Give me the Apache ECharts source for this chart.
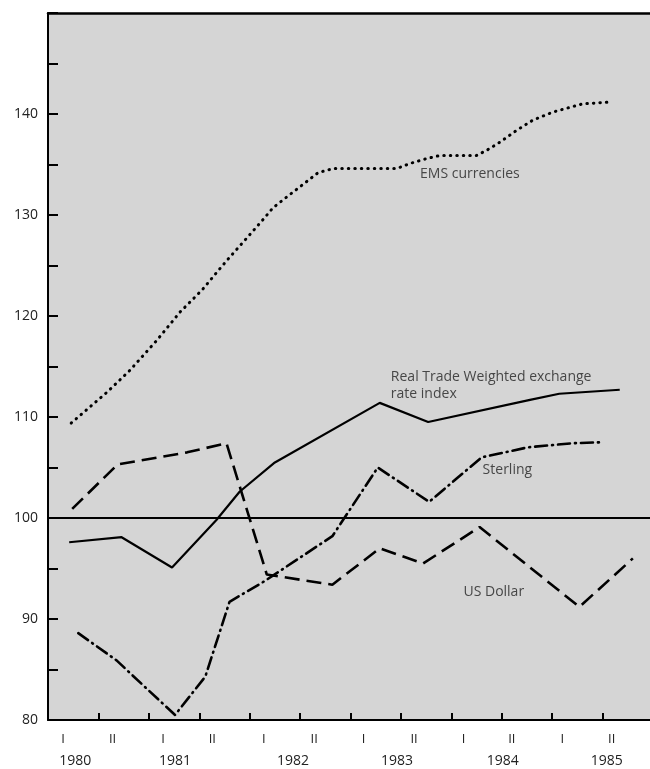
<!DOCTYPE html>
<html><head><meta charset="utf-8">
<script src="https://cdn.jsdelivr.net/npm/echarts@6/dist/echarts.min.js"></script>
<style>html,body{margin:0;padding:0;background:#fff}#c{width:650px;height:769px}</style>
</head><body><div id="c"></div>
<script>
// ---- data (time in decimal years, index values) ----
const emsX = [1980.23,1980.59,1980.81,1981.08,1981.31,1981.53,1981.68,1981.80,1981.97,1982.12,1982.23,1982.37,1982.50,1982.68,1982.83,1983.46,1983.59,1983.76,1983.89,1984.25,1984.35,1984.48,1984.65,1984.81,1985.01,1985.30,1985.60];
const emsY = [109.4,112.5,114.6,117.6,120.4,122.6,124.4,125.8,127.7,129.4,130.7,131.8,132.8,134.2,134.6,134.6,135.1,135.6,135.9,135.9,136.4,137.2,138.4,139.4,140.2,141.0,141.2];
const rtwX = [1980.21,1980.73,1981.23,1981.67,1981.90,1982.25,1983.29,1983.77,1984.78,1985.07,1985.67];
const rtwY = [97.6,98.1,95.1,99.8,102.6,105.5,111.4,109.5,111.7,112.3,112.7];
const usdX = [1980.24,1980.69,1981.38,1981.77,1982.17,1982.82,1983.29,1983.72,1984.28,1985.27,1985.80];
const usdY = [100.9,105.3,106.5,107.4,94.4,93.4,97.0,95.5,99.1,91.2,96.0];
const gbpX = [1980.30,1980.68,1980.99,1981.26,1981.56,1981.80,1982.14,1982.82,1983.27,1983.78,1984.30,1984.76,1985.20,1985.50];
const gbpY = [88.6,85.9,83.0,80.5,84.3,91.7,93.7,98.2,105.0,101.6,106.0,107.0,107.4,107.5];
const baseline = 100;

// ---- tick labels ----
const halfTicks = [1980.5,1981,1981.5,1982,1982.5,1983,1983.5,1984,1984.5,1985,1985.5];
const halfLabels = ['I','II','I','II','I','II','I','II','I','II','I','II'];
const halfLabelPos = [1980.15,1980.64,1981.14,1981.63,1982.14,1982.64,1983.13,1983.63,1984.12,1984.60,1985.10,1985.59];
const yearLabels = ['1980','1981','1982','1983','1984','1985'];
const yearLabelPos = [1980.27,1981.26,1982.43,1983.46,1984.51,1985.54];

// ---- annotations ----
const annoText = ['EMS currencies','Real Trade Weighted exchange\nrate index','Sterling','US Dollar'];
const annoPos = [[1983.69,134.1],[1983.40,113.1],[1984.31,104.75],[1984.12,92.7]];

const zip = (xs, ys) => xs.map((x, i) => [x, ys[i]]);
const font = '"Open Sans", sans-serif';
const txt = '#222';
const pick = (pos, labels) => v => {
  let best = -1, d = 1e9;
  pos.forEach((p, i) => { const dd = Math.abs(p - v); if (dd < d) { d = dd; best = i; } });
  return d < 0.02 ? labels[best] : '';
};

const chart = echarts.init(document.getElementById('c'));
chart.setOption({
  animation: false,
  backgroundColor: '#ffffff',
  grid: { left: 48, right: 0, top: 13, bottom: 49, show: true, backgroundColor: '#d5d5d5', borderWidth: 0 },
  xAxis: [
    { type: 'value', min: 1980, max: 1985.97, position: 'bottom',
      splitLine: { show: false },
      axisLine: { show: true, onZero: false, lineStyle: { color: '#000', width: 2 } },
      axisTick: { show: true, inside: true, length: 7, customValues: halfTicks, lineStyle: { color: '#000', width: 2 } },
      axisLabel: { show: true, customValues: halfLabelPos, formatter: pick(halfLabelPos, halfLabels),
        margin: 13, color: txt, fontFamily: font, fontSize: 13 } },
    { type: 'value', min: 1980, max: 1985.97, position: 'bottom',
      splitLine: { show: false }, axisLine: { show: false }, axisTick: { show: false },
      axisLabel: { show: true, customValues: yearLabelPos, formatter: pick(yearLabelPos, yearLabels),
        margin: 34, color: txt, fontFamily: font, fontSize: 14 } },
    { type: 'value', min: 1980, max: 1985.97, position: 'top',
      splitLine: { show: false }, axisTick: { show: false }, axisLabel: { show: false },
      axisLine: { show: true, onZero: false, lineStyle: { color: '#000', width: 2.5 } } }
  ],
  yAxis: { type: 'value', min: 80, max: 150, interval: 5,
    splitLine: { show: false },
    axisLine: { show: true, onZero: false, lineStyle: { color: '#000', width: 2 } },
    axisTick: { show: true, inside: true, length: 10, lineStyle: { color: '#000', width: 2 } },
    axisLabel: { margin: 10, color: txt, fontFamily: font, fontSize: 14,
      formatter: v => (v % 10 === 0 && v < 150) ? String(v) : '' } },
  series: [
    { name: 'EMS currencies', type: 'line', symbol: 'none', data: zip(emsX, emsY),
      lineStyle: { color: '#000', width: 3, type: [0.5, 6], cap: 'round' } },
    { name: 'Real Trade Weighted exchange rate index', type: 'line', symbol: 'none', data: zip(rtwX, rtwY),
      lineStyle: { color: '#000', width: 2.2 },
      markLine: { silent: true, symbol: 'none', label: { show: false },
        lineStyle: { color: '#000', width: 1.8, type: 'solid' }, data: [{ yAxis: baseline }] } },
    { name: 'US Dollar', type: 'line', symbol: 'none', data: zip(usdX, usdY),
      lineStyle: { color: '#000', width: 2.6, type: [15, 7] } },
    { name: 'Sterling', type: 'line', symbol: 'none', data: zip(gbpX, gbpY),
      lineStyle: { color: '#000', width: 2.6, type: [12, 5, 1, 5], cap: 'round' } },
    { name: 'labels', type: 'scatter', symbolSize: 0, silent: true,
      data: annoPos.map((p, i) => ({ value: p, name: annoText[i] })),
      label: { show: true, position: 'right', distance: 0, formatter: p => p.name,
        color: txt, fontFamily: font, fontSize: 14, lineHeight: 17, align: 'left' } }
  ]
});
</script></body></html>
